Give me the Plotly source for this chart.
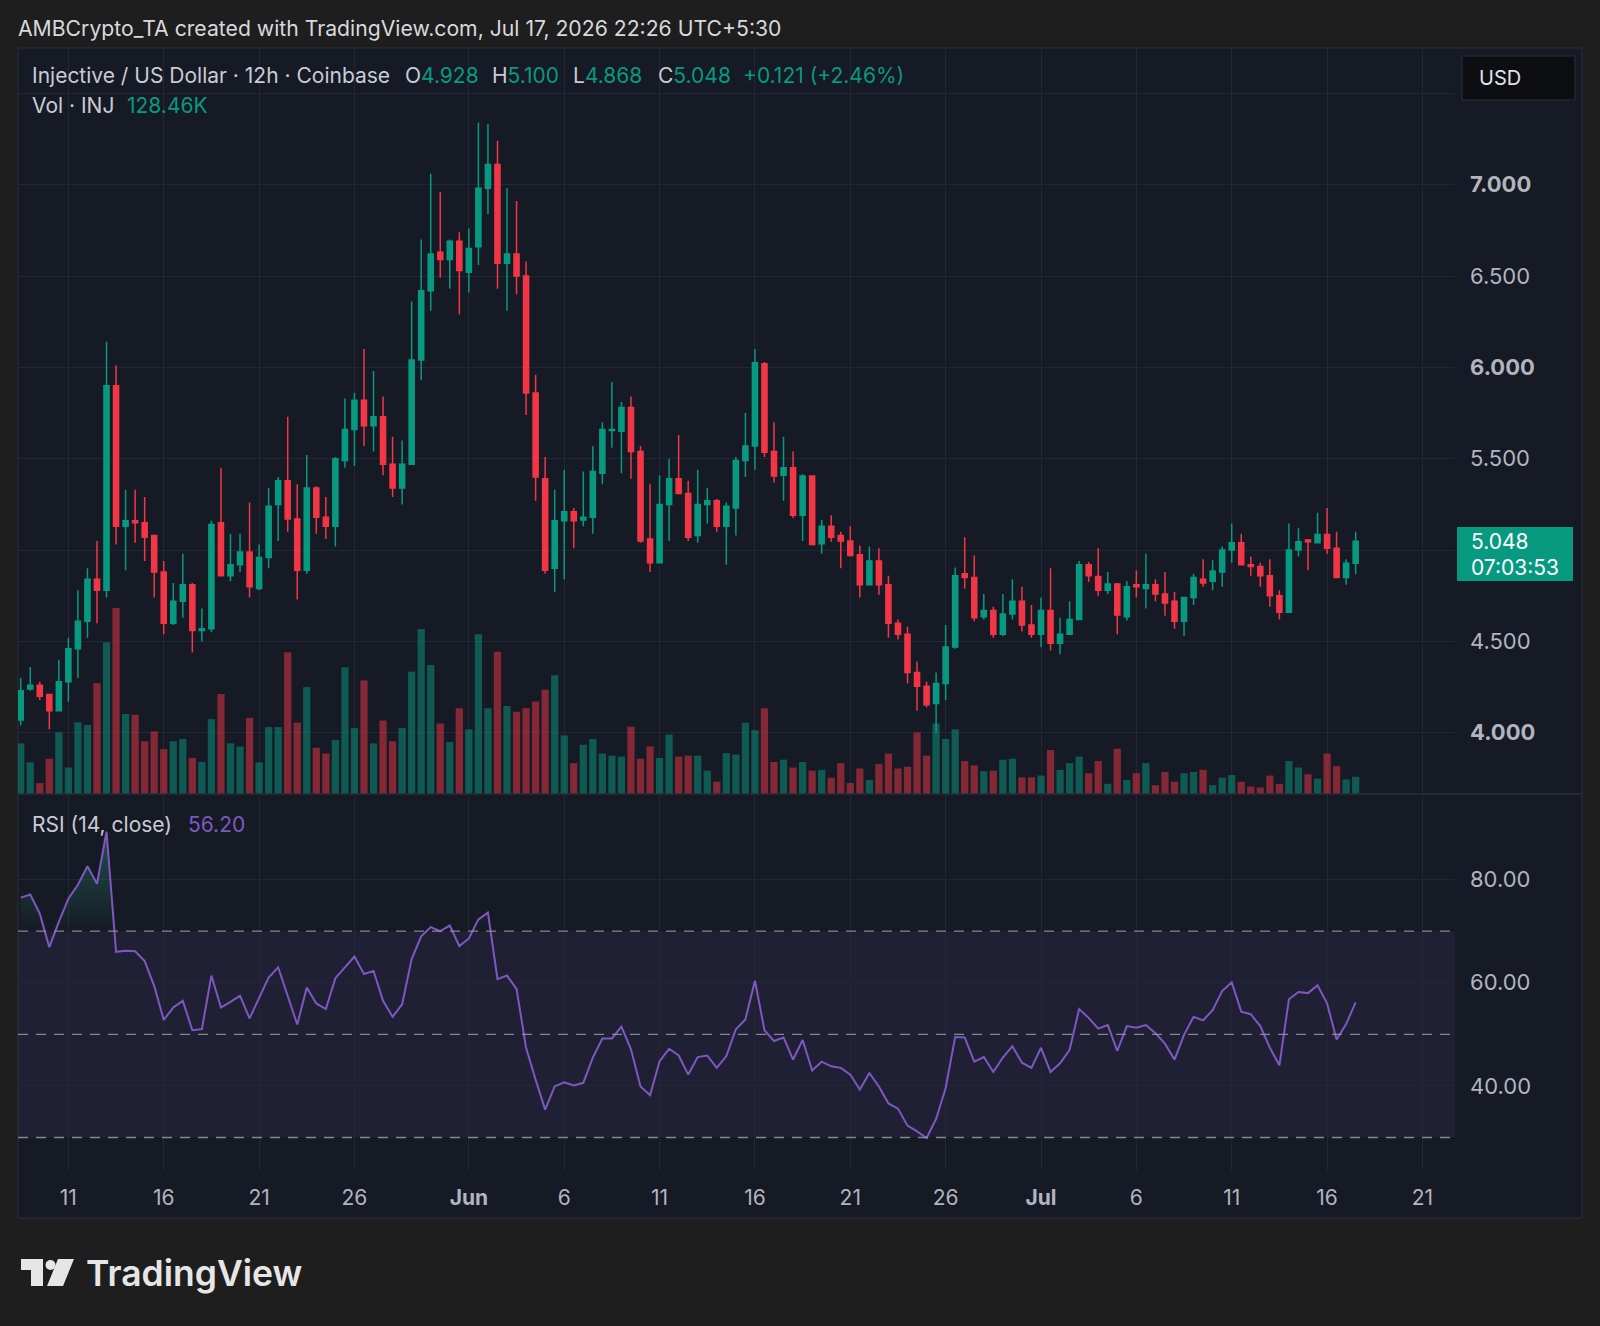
import plotly.graph_objects as go
import pandas as pd

W, H = 1600, 1326
def px(x): return x / W
def py(y): return 1 - y / H

# ---------------- data ----------------
opens = [4.07, 4.24, 4.26, 4.21, 4.12, 4.28, 4.46, 4.61, 4.84, 4.78,
         5.90, 5.13, 5.16, 5.15, 5.08, 4.88, 4.60, 4.72, 4.81, 4.56,
         4.57, 5.15, 4.86, 4.92, 4.99, 4.79, 4.96, 5.25, 5.38, 5.17,
         4.89, 5.34, 5.18, 5.13, 5.49, 5.66, 5.82, 5.68, 5.73, 5.47,
         5.34, 5.47, 6.04, 6.42, 6.63, 6.59, 6.69, 6.52, 6.66, 6.98,
         7.11, 6.57, 6.62, 6.50, 5.86, 5.39, 4.90, 5.16, 5.21, 5.165,
         5.18, 5.42, 5.655, 5.65, 5.78, 5.54, 5.06, 4.93, 5.25, 5.39,
         5.31, 5.08, 5.25, 5.27, 5.13, 5.23, 5.49, 5.57, 6.02, 5.54,
         5.41, 5.45, 5.19, 5.405, 5.035, 5.13, 5.08, 5.05, 4.975, 4.81,
         4.94, 4.81, 4.60, 4.54, 4.33, 4.255, 4.16, 4.27, 4.47, 4.87,
         4.85, 4.635, 4.67, 4.54, 4.65, 4.72, 4.59, 4.54, 4.67, 4.49,
         4.54, 4.62, 4.92, 4.855, 4.78, 4.815, 4.635, 4.81, 4.79, 4.81,
         4.76, 4.72, 4.61, 4.74, 4.84, 4.83, 4.88, 5.00, 5.04, 4.92,
         4.91, 4.86, 4.75, 4.66, 5.00, 5.055, 5.04, 5.085, 5.01, 4.85,
         4.928]
highs = [4.30, 4.36, 4.28, 4.21, 4.40, 4.52, 4.78, 4.90, 5.05, 6.14,
         6.01, 5.33, 5.33, 5.29, 5.08, 4.94, 4.82, 4.98, 4.82, 4.68,
         5.16, 5.45, 5.09, 5.09, 5.26, 5.03, 5.34, 5.40, 5.73, 5.36,
         5.52, 5.35, 5.29, 5.51, 5.83, 5.86, 6.10, 5.98, 5.84, 5.62,
         5.60, 6.36, 6.70, 7.06, 6.96, 6.70, 6.74, 6.76, 7.34, 7.33,
         7.24, 6.98, 6.91, 6.58, 5.96, 5.51, 5.33, 5.44, 5.23, 5.43,
         5.57, 5.70, 5.92, 5.81, 5.84, 5.57, 5.36, 5.41, 5.50, 5.63,
         5.38, 5.44, 5.34, 5.28, 5.26, 5.51, 5.75, 6.10, 6.03, 5.70,
         5.62, 5.54, 5.415, 5.405, 5.165, 5.19, 5.10, 5.13, 5.025, 5.02,
         5.01, 4.86, 4.62, 4.58, 4.39, 4.28, 4.33, 4.59, 4.905, 5.07,
         4.97, 4.76, 4.69, 4.76, 4.84, 4.80, 4.70, 4.74, 4.90, 4.63,
         4.72, 4.94, 4.935, 5.01, 4.88, 4.82, 4.83, 4.89, 4.98, 4.84,
         4.88, 4.77, 4.74, 4.87, 4.95, 4.945, 5.02, 5.145, 5.09, 4.965,
         4.93, 4.95, 4.78, 5.145, 5.12, 5.06, 5.205, 5.23, 5.10, 4.95,
         5.100]
lows = [4.04, 4.23, 4.18, 4.02, 4.12, 4.17, 4.30, 4.52, 4.60, 4.74,
        5.03, 4.89, 5.04, 4.94, 4.74, 4.54, 4.59, 4.63, 4.44, 4.50,
        4.55, 4.86, 4.83, 4.88, 4.74, 4.78, 4.90, 5.05, 5.10, 4.73,
        4.87, 5.09, 5.06, 5.02, 5.45, 5.46, 5.57, 5.54, 5.41, 5.29,
        5.25, 5.47, 5.93, 6.31, 6.49, 6.43, 6.29, 6.41, 6.56, 6.84,
        6.43, 6.31, 6.40, 5.74, 5.27, 4.87, 4.77, 4.84, 5.01, 5.13,
        5.09, 5.36, 5.56, 5.42, 5.39, 5.04, 4.88, 4.93, 5.05, 5.31,
        5.05, 5.04, 5.145, 5.10, 4.92, 5.08, 5.40, 5.44, 5.51, 5.37,
        5.27, 5.175, 5.05, 5.025, 4.98, 5.045, 4.90, 4.965, 4.74, 4.81,
        4.755, 4.52, 4.51, 4.27, 4.12, 4.14, 4.00, 4.18, 4.46, 4.79,
        4.61, 4.62, 4.52, 4.53, 4.62, 4.555, 4.52, 4.47, 4.45, 4.43,
        4.535, 4.62, 4.825, 4.75, 4.76, 4.54, 4.615, 4.74, 4.68, 4.72,
        4.64, 4.57, 4.53, 4.70, 4.80, 4.78, 4.80, 4.93, 4.92, 4.86,
        4.80, 4.69, 4.62, 4.66, 4.965, 4.89, 5.04, 4.98, 4.85, 4.81,
        4.868]
closes = [4.23, 4.26, 4.20, 4.12, 4.28, 4.46, 4.61, 4.84, 4.78, 5.90,
          5.13, 5.16, 5.15, 5.07, 4.88, 4.60, 4.72, 4.81, 4.56, 4.57,
          5.14, 4.86, 4.92, 4.99, 4.80, 4.96, 5.24, 5.38, 5.17, 4.89,
          5.34, 5.18, 5.13, 5.50, 5.66, 5.82, 5.68, 5.73, 5.47, 5.34,
          5.47, 6.04, 6.42, 6.62, 6.59, 6.69, 6.53, 6.65, 6.98, 7.11,
          6.57, 6.62, 6.50, 5.86, 5.40, 4.89, 5.16, 5.21, 5.16, 5.18,
          5.43, 5.66, 5.66, 5.78, 5.54, 5.05, 4.93, 5.25, 5.39, 5.31,
          5.07, 5.25, 5.27, 5.13, 5.24, 5.49, 5.57, 6.025, 5.535, 5.405,
          5.45, 5.19, 5.405, 5.03, 5.13, 5.07, 5.05, 4.97, 4.81, 4.94,
          4.81, 4.60, 4.54, 4.33, 4.255, 4.153, 4.27, 4.47, 4.86, 4.85,
          4.63, 4.67, 4.54, 4.65, 4.72, 4.59, 4.54, 4.67, 4.49, 4.54,
          4.62, 4.92, 4.86, 4.78, 4.815, 4.645, 4.80, 4.80, 4.81, 4.76,
          4.71, 4.61, 4.74, 4.85, 4.82, 4.885, 5.00, 5.04, 4.92, 4.91,
          4.86, 4.75, 4.66, 5.00, 5.045, 5.045, 5.085, 5.01, 4.85, 4.928,
          5.048]
volumes_k = [379, 237, 82, 264, 461, 198, 537, 517, 830, 1136,
             1393, 599, 593, 395, 468, 336, 395, 412, 270, 240,
             560, 748, 379, 356, 570, 237, 501, 501, 1061, 534,
             800, 346, 303, 405, 949, 494, 850, 379, 550, 395,
             494, 916, 1235, 965, 527, 389, 642, 484, 1196, 642,
             1064, 659, 616, 642, 692, 781, 889, 438, 231, 369,
             412, 303, 287, 280, 504, 264, 356, 270, 445, 280,
             287, 287, 175, 92, 306, 296, 534, 478, 642, 240,
             257, 198, 240, 175, 181, 122, 231, 82, 191, 105,
             224, 303, 191, 204, 461, 287, 527, 412, 484, 247,
             214, 171, 175, 257, 264, 125, 125, 138, 329, 181,
             231, 280, 155, 247, 76, 339, 105, 155, 231, 66,
             165, 92, 155, 165, 181, 66, 122, 142, 92, 56,
             49, 138, 76, 247, 198, 148, 115, 303, 208, 109,
             128.46]
rsi = [76.5, 77.1, 73.4, 66.9, 71.8, 76.3, 79.0, 82.6, 79.2, 89.3,
       66.0, 66.2, 66.1, 64.2, 59.4, 52.8, 55.2, 56.5, 50.8, 51.0,
       61.4, 55.2, 56.3, 57.5, 53.1, 56.9, 61.0, 63.0, 57.5, 51.9,
       59.1, 56.0, 54.9, 60.9, 63.0, 65.1, 61.7, 62.3, 56.5, 53.4,
       55.8, 64.6, 69.0, 70.8, 70.0, 71.1, 67.1, 68.6, 72.3, 73.6,
       60.7, 61.4, 58.8, 47.4, 41.2, 35.4, 39.9, 40.7, 40.1, 40.6,
       45.5, 49.2, 49.2, 51.5, 47.1, 39.9, 38.2, 44.8, 47.2, 45.9,
       42.2, 45.6, 45.9, 43.5, 45.8, 51.0, 52.9, 60.4, 50.8, 48.7,
       49.4, 45.1, 48.9, 43.0, 44.7, 43.8, 43.5, 42.2, 39.3, 42.5,
       39.9, 36.6, 35.6, 32.3, 31.2, 29.9, 33.6, 39.6, 49.5, 49.4,
       44.7, 45.6, 42.7, 45.5, 47.7, 44.5, 43.5, 47.4, 42.7, 44.4,
       47.0, 54.9, 53.2, 51.1, 51.8, 46.8, 51.6, 51.3, 51.8, 50.2,
       48.2, 45.1, 49.9, 53.4, 52.7, 54.7, 58.4, 60.1, 54.4, 53.9,
       51.6, 47.4, 44.0, 56.8, 58.2, 58.0, 59.5, 56.0, 49.0, 52.0,
       56.2]

dates = pd.date_range("2026-05-08 12:00", periods=len(closes), freq="12h")

tick_dates = ["2026-05-11", "2026-05-16", "2026-05-21", "2026-05-26", "2026-06-01",
              "2026-06-06", "2026-06-11", "2026-06-16", "2026-06-21", "2026-06-26",
              "2026-07-01", "2026-07-06", "2026-07-11", "2026-07-16", "2026-07-21"]
tick_labels = ["11", "16", "21", "26", "<b>Jun</b>", "6", "11", "16", "21", "26",
               "<b>Jul</b>", "6", "11", "16", "21"]
price_ticks = [4.0, 4.5, 5.0, 5.5, 6.0, 6.5, 7.0, 7.5]
price_tick_labels = ["<b>4.000</b>", "4.500", "", "5.500", "<b>6.000</b>",
                     "6.500", "<b>7.000</b>", ""]
rsi_ticks = [40, 60, 80]
rsi_tick_labels = ["40.00", "60.00", "80.00"]

# ---------------- style ----------------
UP = "#089981"
DOWN = "#f23645"
VOL_UP = "rgba(8,153,129,0.5)"
VOL_DOWN = "rgba(242,54,69,0.5)"
GRID = "#232735"
PANEL = "#161a25"
OUTER = "#1e1e1e"
TXT = "#c9ccd4"
AX = "#b2b5be"
PURPLE = "#7e57c2"
FONT = "Inter, Roboto, sans-serif"

vol_colors = [VOL_UP if c >= o else VOL_DOWN for o, c in zip(opens, closes)]

# overbought fill geometry (line vs 70 level)
fx, fy = [], []
for i in range(len(rsi)):
    if i > 0:
        a, b = rsi[i - 1], rsi[i]
        if (a - 70) * (b - 70) < 0:
            f = (70 - a) / (b - a)
            fx.append(dates[i - 1] + (dates[i] - dates[i - 1]) * f)
            fy.append(70)
    fx.append(dates[i])
    fy.append(max(rsi[i], 70))

fig = go.Figure()

fig.add_trace(go.Bar(x=dates, y=volumes_k, marker=dict(color=vol_colors, line=dict(width=0)),
                     xaxis="x2", yaxis="y", hoverinfo="skip"))
fig.add_trace(go.Candlestick(x=dates, open=opens, high=highs, low=lows, close=closes,
                             xaxis="x2", yaxis="y3", whiskerwidth=0,
                             increasing=dict(line=dict(color=UP, width=1.5), fillcolor=UP),
                             decreasing=dict(line=dict(color=DOWN, width=1.5), fillcolor=DOWN),
                             hoverinfo="skip"))
fig.add_trace(go.Scatter(x=fx, y=[70] * len(fx), mode="lines", line=dict(width=0),
                         xaxis="x", yaxis="y2", hoverinfo="skip"))
fig.add_trace(go.Scatter(x=fx, y=fy, mode="lines", line=dict(width=0), fill="tonexty",
                         fillgradient=dict(type="vertical", start=70, stop=100,
                                           colorscale=[[0, "rgba(40,170,130,0.0)"],
                                                       [1, "rgba(40,170,130,0.6)"]]),
                         xaxis="x", yaxis="y2", hoverinfo="skip"))
fig.add_trace(go.Scatter(x=dates, y=rsi, mode="lines", line=dict(color=PURPLE, width=2),
                         xaxis="x", yaxis="y2", hoverinfo="skip"))

xr = ["2026-05-08 08:36", "2026-07-22 17:00"]
xdom = [px(18), px(1455)]

fig.update_layout(
    width=W, height=H, margin=dict(l=0, r=0, t=0, b=0),
    paper_bgcolor=OUTER, plot_bgcolor="rgba(0,0,0,0)",
    showlegend=False, bargap=0.24, boxgap=0.24,
    font=dict(family=FONT, color=AX),
    xaxis=dict(domain=xdom, anchor="y2", range=xr, tickvals=tick_dates, ticktext=tick_labels,
               showgrid=True, gridcolor=GRID, gridwidth=1, zeroline=False, showline=False,
               ticks="", tickfont=dict(size=21, color=AX, family=FONT), ticklabelstandoff=13,
               rangeslider=dict(visible=False)),
    xaxis2=dict(domain=xdom, anchor="y", matches="x", range=xr, tickvals=tick_dates,
                showticklabels=False, showgrid=True, gridcolor=GRID, gridwidth=1,
                zeroline=False, showline=False, ticks="", rangeslider=dict(visible=False)),
    yaxis=dict(domain=[py(794), py(48)], anchor="x2", range=[0, 5584], visible=False,
               showgrid=False, fixedrange=True),
    yaxis3=dict(overlaying="y", anchor="x2", side="right", range=[3.665, 7.748],
                tickvals=price_ticks, ticktext=price_tick_labels, showgrid=True,
                gridcolor=GRID, gridwidth=1, zeroline=False, showline=False, ticks="",
                tickfont=dict(size=22, color=AX, family=FONT), ticklabelstandoff=14),
    yaxis2=dict(domain=[py(1170), py(794)], anchor="x", side="right", range=[23.7, 96.6],
                tickvals=rsi_ticks, ticktext=rsi_tick_labels, showgrid=True, gridcolor=GRID,
                gridwidth=1, zeroline=False, showline=False, ticks="",
                tickfont=dict(size=22, color=AX, family=FONT), ticklabelstandoff=14),
)

shapes = [
    dict(type="rect", xref="paper", yref="paper", x0=px(18), x1=px(1582), y0=py(1218), y1=py(48),
         fillcolor=PANEL, line=dict(color="#2a2e39", width=1), layer="below"),
    dict(type="line", xref="paper", yref="paper", x0=px(18), x1=px(1582), y0=py(794), y1=py(794),
         line=dict(color="#2a2e39", width=1.5)),
    dict(type="rect", xref="x domain", yref="y2", x0=0, x1=1, y0=30, y1=70,
         fillcolor="rgba(126,87,194,0.10)", line=dict(width=0), layer="below"),
]
for lvl in (70, 50, 30):
    shapes.append(dict(type="line", xref="x domain", yref="y2", x0=0, x1=1, y0=lvl, y1=lvl,
                       line=dict(color="rgba(150,153,162,0.85)", width=1.3, dash="10px,8px")))
# USD button and live price label
shapes.append(dict(type="rect", xref="paper", yref="paper", x0=px(1462), x1=px(1575),
                   y0=py(100), y1=py(56), fillcolor="#0d0e12",
                   line=dict(color="#2a2e39", width=1)))
shapes.append(dict(type="rect", xref="paper", yref="paper", x0=px(1457), x1=px(1573),
                   y0=py(581), y1=py(527), fillcolor=UP, line=dict(width=0)))
# TradingView logo mark
LOGO = "#e6e6e6"
shapes.append(dict(type="rect", xref="paper", yref="paper", x0=px(21), x1=px(43),
                   y0=py(1270), y1=py(1259), fillcolor=LOGO, line=dict(width=0)))
shapes.append(dict(type="rect", xref="paper", yref="paper", x0=px(31), x1=px(43),
                   y0=py(1286), y1=py(1259), fillcolor=LOGO, line=dict(width=0)))
shapes.append(dict(type="circle", xref="paper", yref="paper", x0=px(45.5), x1=px(55.5),
                   y0=py(1270), y1=py(1260), fillcolor=LOGO, line=dict(width=0)))
shapes.append(dict(type="path", xref="paper", yref="paper",
                   path=f"M {px(58)} {py(1259)} L {px(74)} {py(1259)} L {px(63)} {py(1286)} "
                        f"L {px(47)} {py(1286)} Z",
                   fillcolor=LOGO, line=dict(width=0)))
fig.update_layout(shapes=shapes)

def ann(x, y, text, size=20, color=TXT, anchor="left", weight=None):
    f = dict(size=size, color=color, family=FONT)
    if weight:
        f["weight"] = weight
    return dict(xref="paper", yref="paper", x=px(x), y=py(y), text=text, showarrow=False,
                xanchor=anchor, yanchor="middle", font=f)

G = UP
anns = [
    ann(16, 27.5, "AMBCrypto_TA created with TradingView.com, Jul 17, 2026 22:26 UTC+5:30",
        size=21.2, color="#d8d9dc"),
    ann(30, 75.5, "Injective / US Dollar · 12h · Coinbase", size=21),
    ann(403, 75.5, f'O<span style="color:{G}">4.928</span>', size=21),
    ann(490, 75.5, f'H<span style="color:{G}">5.100</span>', size=21),
    ann(571, 75.5, f'L<span style="color:{G}">4.868</span>', size=21),
    ann(656, 75.5, f'C<span style="color:{G}">5.048</span>', size=21),
    ann(741, 75.5, "+0.121 (+2.46%)", size=21, color=G),
    ann(30, 106, "Vol · INJ", size=21),
    ann(124.5, 106, "128.46K", size=21, color=G),
    ann(30, 824.5, "RSI (14, close)", size=21),
    ann(186, 824.5, "56.20", size=21, color=PURPLE),
    ann(1477, 77.5, "USD", size=20, color="#e0e3eb"),
    ann(1469, 541, "5.048", size=21, color="#ffffff"),
    ann(1469, 567, "07:03:53", size=21, color="#ffffff"),
    ann(84, 1273, "TradingView", size=35.5, color=LOGO, weight=600),
]
fig.update_layout(annotations=anns)

fig.write_html("out.html")
